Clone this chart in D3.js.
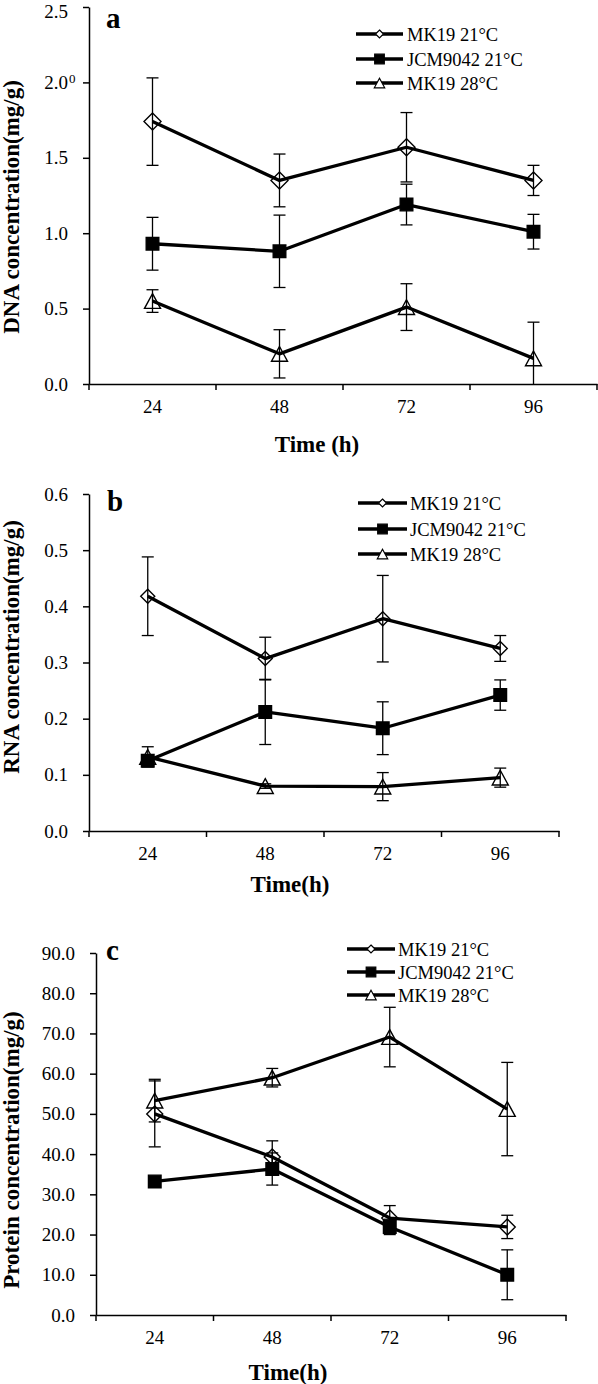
<!DOCTYPE html>
<html><head><meta charset="utf-8">
<script src="https://cdn.jsdelivr.net/npm/d3@7"></script>
<style>
body{margin:0;background:#fff}
svg{display:block}
text{font-family:"Liberation Serif","Times New Roman",serif;fill:#000}
</style>
</head><body>
<svg id="chart" width="598" height="1384"></svg>
<script>
// ---------- data ----------
const categories = ["24", "48", "72", "96"];
const seriesNames = ["MK19 21°C", "JCM9042 21°C", "MK19 28°C"];
const seriesSymbols = ["diamond", "square", "triangle"];

const dnaTicks = [0.0, 0.5, 1.0, 1.5, 2.0, 2.5];
const dnaMK19_21 = [1.74, 1.35, 1.57, 1.35];
const dnaMK19_21Err = [0.29, 0.175, 0.23, 0.10];
const dnaJCM9042_21 = [0.93, 0.88, 1.19, 1.01];
const dnaJCM9042_21Err = [0.175, 0.24, 0.135, 0.115];
const dnaMK19_28 = [0.55, 0.20, 0.51, 0.17];
const dnaMK19_28Err = [0.075, 0.16, 0.155, 0.24];

const rnaTicks = [0.0, 0.1, 0.2, 0.3, 0.4, 0.5, 0.6];
const rnaMK19_21 = [0.418, 0.307, 0.378, 0.325];
const rnaMK19_21Err = [0.070, 0.038, 0.077, 0.023];
const rnaJCM9042_21 = [0.125, 0.212, 0.183, 0.242];
const rnaJCM9042_21Err = [0.005, 0.058, 0.047, 0.027];
const rnaMK19_28 = [0.132, 0.080, 0.079, 0.095];
const rnaMK19_28Err = [0.018, 0.004, 0.025, 0.017];

const proteinTicks = [0, 10, 20, 30, 40, 50, 60, 70, 80, 90];
const proteinMK19_21 = [50.0, 39.3, 24.1, 21.9];
const proteinMK19_21Err = [8.2, 4.0, 3.1, 2.9];
const proteinJCM9042_21 = [33.2, 36.3, 21.9, 10.0];
const proteinJCM9042_21Err = [0, 4.0, 1.9, 6.2];
const proteinMK19_28 = [53.3, 59.0, 69.1, 51.2];
const proteinMK19_28Err = [5.3, 2.3, 7.4, 11.6];

// ---------- drawing ----------
const svg = d3.select("#chart");
svg.append("rect").attr("width", 598).attr("height", 1384).attr("fill", "#fff");

function markerPath(type, s) {
  if (type === "diamond") return `M0,${-s}L${s},0L0,${s}L${-s},0Z`;
  if (type === "square") return `M${-s},${-s}H${s}V${s}H${-s}Z`;
  return `M0,${-s * 0.92}L${s},${s * 0.92}L${-s},${s * 0.92}Z`;
}

function drawPanel(cfg) {
  const g = svg.append("g");
  const x = d3.scaleBand().domain(categories).range([cfg.x0, cfg.x1]).padding(0);
  const y = d3.scaleLinear().domain([0, d3.max(cfg.ticks)]).range([cfg.yBot, cfg.yTop]);
  const bw = x.bandwidth();
  const cx = c => x(c) + bw / 2;

  const ya = g.append("g").attr("transform", `translate(${cfg.x0},0)`)
    .call(d3.axisLeft(y).tickValues(cfg.ticks).tickSize(6).tickSizeOuter(0).tickPadding(15)
      .tickFormat(d3.format(".1f")));
  ya.select(".domain").attr("stroke", "#000").attr("stroke-width", 1.5);
  ya.selectAll(".tick line").attr("stroke", "#000").attr("stroke-width", 1.5);
  ya.selectAll(".tick text").attr("font-size", 19).attr("font-family", "Liberation Serif").attr("fill", "#000")
    .attr("dy", d => (cfg.topLabelShift && d === d3.max(cfg.ticks)) ? "0.56em" : "0.32em");

  const xa = g.append("g").attr("transform", `translate(0,${cfg.yBot})`)
    .call(d3.axisBottom(x).tickSize(0).tickSizeOuter(0).tickPadding(15.5));
  xa.select(".domain").attr("stroke", "#000").attr("stroke-width", 1.5);
  xa.selectAll(".tick text").attr("font-size", 19).attr("font-family", "Liberation Serif").attr("fill", "#000");
  const edges = categories.map(c => x(c)).concat([cfg.x1]);
  xa.selectAll("line.edge").data(edges).enter().append("line").attr("class", "edge")
    .attr("x1", d => d).attr("x2", d => d).attr("y1", 0).attr("y2", 6)
    .attr("stroke", "#000").attr("stroke-width", 1.5);

  if (cfg.superscript) {
    g.append("text").attr("x", cfg.x0 - 20).attr("y", y(cfg.superscript.at) + 1)
      .attr("font-size", 13).text(cfg.superscript.text);
  }

  const line = d3.line().x((d, i) => cx(categories[i])).y(d => y(d));

  cfg.series.forEach(s => {
    g.append("path").datum(s.values).attr("d", line)
      .attr("fill", "none").attr("stroke", "#000").attr("stroke-width", 3.3)
      .attr("stroke-linejoin", "round");
  });
  cfg.series.forEach(s => {
    s.values.forEach((v, i) => {
      const e = s.errors[i];
      if (!e) return;
      const xc = cx(categories[i]);
      const lo = Math.max(0, v - e), hi = v + e;
      g.append("line").attr("x1", xc).attr("x2", xc).attr("y1", y(lo)).attr("y2", y(hi))
        .attr("stroke", "#000").attr("stroke-width", 1.3);
      g.append("line").attr("x1", xc - 6).attr("x2", xc + 6).attr("y1", y(hi)).attr("y2", y(hi))
        .attr("stroke", "#000").attr("stroke-width", 1.3);
      if (v - e > 0) {
        g.append("line").attr("x1", xc - 6).attr("x2", xc + 6).attr("y1", y(lo)).attr("y2", y(lo))
          .attr("stroke", "#000").attr("stroke-width", 1.3);
      }
    });
  });
  cfg.series.forEach(s => {
    const size = s.symbol === "diamond" ? cfg.dSize : s.symbol === "square" ? 6.3 : 8;
    g.selectAll(null).data(s.values).enter().append("path")
      .attr("transform", (d, i) => `translate(${cx(categories[i])},${y(d)})`)
      .attr("d", markerPath(s.symbol, size))
      .attr("fill", s.symbol === "square" ? "#000" : "none")
      .attr("stroke", "#000").attr("stroke-width", 1.4);
  });

  g.append("text").attr("transform", `translate(${cfg.yTitleX},${cfg.yTitleY}) rotate(-90)`)
    .attr("text-anchor", "middle").attr("font-size", 23).attr("font-weight", "bold").text(cfg.yTitle);
  g.append("text").attr("x", cfg.xTitleX).attr("y", cfg.xTitleY)
    .attr("text-anchor", "middle").attr("font-size", 23).attr("font-weight", "bold").text(cfg.xTitle);

  g.append("text").attr("x", cfg.letterX).attr("y", cfg.letterY)
    .attr("font-size", 29).attr("font-weight", "bold").text(cfg.letter);

  const legendSizes = {diamond: 4, square: 4.8, triangle: 5.2};
  cfg.series.forEach((s, i) => {
    const ly = cfg.legend.rows[i];
    g.append("line").attr("x1", cfg.legend.x0).attr("x2", cfg.legend.x1).attr("y1", ly).attr("y2", ly)
      .attr("stroke", "#000").attr("stroke-width", 3.3);
    g.append("path").attr("transform", `translate(${(cfg.legend.x0 + cfg.legend.x1) / 2},${ly})`)
      .attr("d", markerPath(s.symbol, legendSizes[s.symbol]))
      .attr("fill", s.symbol === "square" ? "#000" : "#fff")
      .attr("stroke", "#000").attr("stroke-width", 1.2);
    g.append("text").attr("x", cfg.legend.tx).attr("y", ly + 7)
      .attr("font-size", 18.5).text(s.name);
  });
}

drawPanel({
  x0: 89, x1: 597, yTop: 7, yBot: 384, ticks: dnaTicks, dSize: 8.5, topLabelShift: true,
  superscript: {at: 2.0, text: "0"},
  series: [
    {name: seriesNames[0], symbol: seriesSymbols[0], values: dnaMK19_21, errors: dnaMK19_21Err},
    {name: seriesNames[1], symbol: seriesSymbols[1], values: dnaJCM9042_21, errors: dnaJCM9042_21Err},
    {name: seriesNames[2], symbol: seriesSymbols[2], values: dnaMK19_28, errors: dnaMK19_28Err}
  ],
  yTitle: "DNA concentration(mg/g)", yTitleX: 19, yTitleY: 207,
  xTitle: "Time (h)", xTitleX: 317, xTitleY: 452,
  letter: "a", letterX: 106, letterY: 28,
  legend: {x0: 356, x1: 403, tx: 407, rows: [34, 59, 83]}
});

drawPanel({
  x0: 89, x1: 559, yTop: 494, yBot: 831, ticks: rnaTicks, dSize: 7,
  series: [
    {name: seriesNames[0], symbol: seriesSymbols[0], values: rnaMK19_21, errors: rnaMK19_21Err},
    {name: seriesNames[1], symbol: seriesSymbols[1], values: rnaJCM9042_21, errors: rnaJCM9042_21Err},
    {name: seriesNames[2], symbol: seriesSymbols[2], values: rnaMK19_28, errors: rnaMK19_28Err}
  ],
  yTitle: "RNA concentration(mg/g)", yTitleX: 19, yTitleY: 647,
  xTitle: "Time(h)", xTitleX: 290, xTitleY: 892,
  letter: "b", letterX: 107, letterY: 511,
  legend: {x0: 358, x1: 407, tx: 410, rows: [503, 529, 554]}
});

drawPanel({
  x0: 96, x1: 566, yTop: 953, yBot: 1315, ticks: proteinTicks, dSize: 8,
  series: [
    {name: seriesNames[0], symbol: seriesSymbols[0], values: proteinMK19_21, errors: proteinMK19_21Err},
    {name: seriesNames[1], symbol: seriesSymbols[1], values: proteinJCM9042_21, errors: proteinJCM9042_21Err},
    {name: seriesNames[2], symbol: seriesSymbols[2], values: proteinMK19_28, errors: proteinMK19_28Err}
  ],
  yTitle: "Protein concentration(mg/g)", yTitleX: 19, yTitleY: 1150,
  xTitle: "Time(h)", xTitleX: 288, xTitleY: 1380,
  letter: "c", letterX: 106, letterY: 960,
  legend: {x0: 347, x1: 395, tx: 398, rows: [949, 972, 995]}
});
</script>
</body></html>
